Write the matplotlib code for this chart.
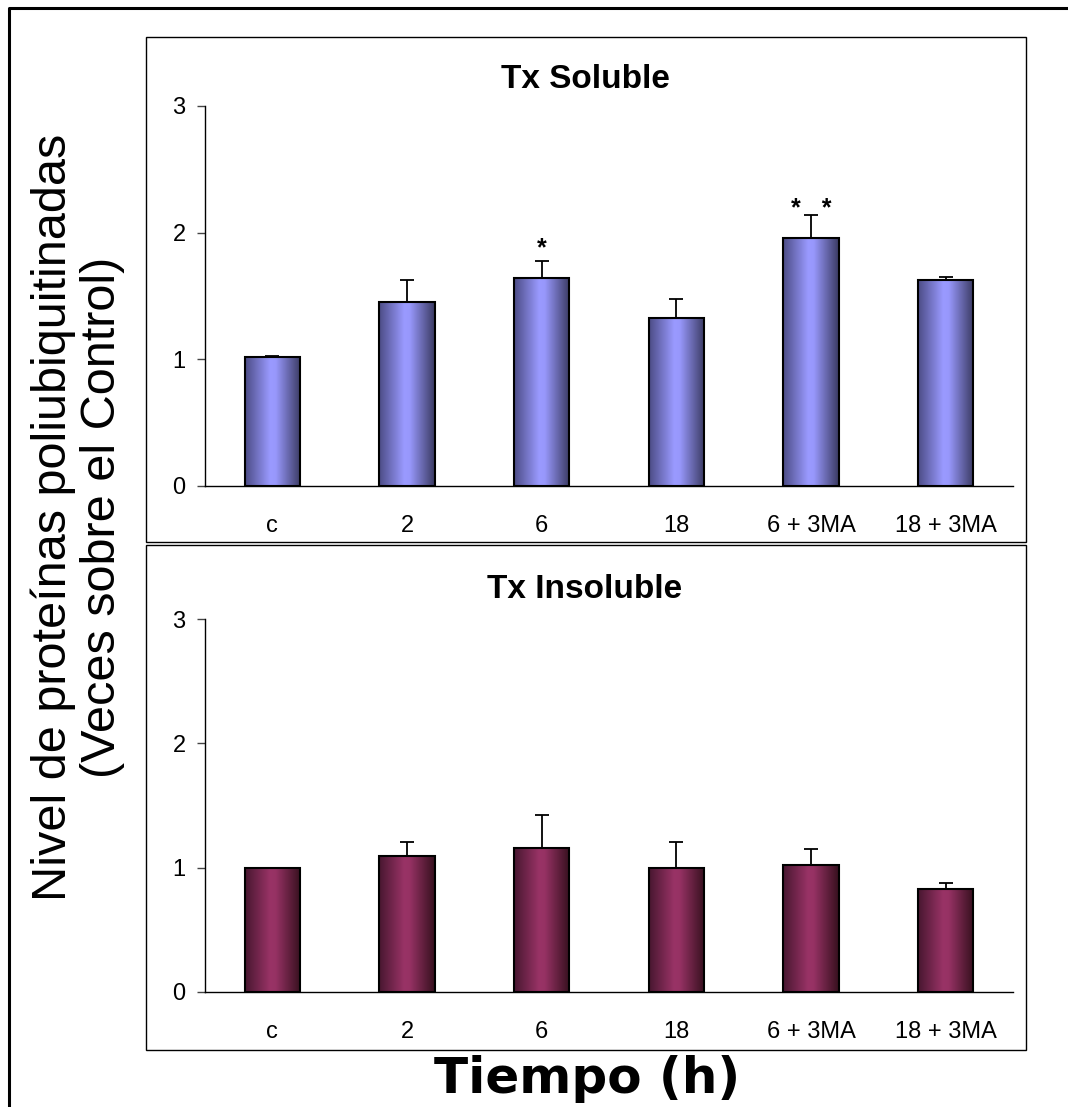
import numpy as np
import matplotlib
matplotlib.use("Agg")
import matplotlib.pyplot as plt
from matplotlib.colors import LinearSegmentedColormap
from matplotlib.patches import Rectangle
from matplotlib.lines import Line2D

# data
categories = ["c", "2", "6", "18", "6 + 3MA", "18 + 3MA"]
soluble = [1.02, 1.45, 1.64, 1.33, 1.96, 1.63]
soluble_err = [0.01, 0.18, 0.14, 0.15, 0.18, 0.02]
insoluble = [1.00, 1.09, 1.16, 1.00, 1.02, 0.83]
insoluble_err = [0.0, 0.12, 0.26, 0.21, 0.13, 0.05]
stars = {2: "*", 4: "*   *"}   # category index -> marker text
star_y = {2: 1.88, 4: 2.19}

plt.rcParams['font.family'] = ['Liberation Sans', 'DejaVu Sans']

W, H = 1068, 1107
fig = plt.figure(figsize=(W / 100, H / 100), dpi=100)

cmap_blue = LinearSegmentedColormap.from_list(
    "blu", [(0, "#4c4c86"), (0.45, "#9a9aff"), (0.55, "#9898fc"), (1, "#3a3a62")])
cmap_wine = LinearSegmentedColormap.from_list(
    "wine", [(0, "#481730"), (0.45, "#993366"), (0.55, "#963264"), (1, "#36101e")])
grad = np.linspace(0, 1, 200).reshape(1, -1)


def panel(rect, vals, errs, cmap, title, box, title_y):
    ax = fig.add_axes(rect)
    x = np.arange(len(categories))
    bars = ax.bar(x, vals, 0.41, color="none", edgecolor="black",
                  linewidth=1.5, zorder=3)
    for b in bars:
        ax.imshow(grad, cmap=cmap, aspect="auto", zorder=2,
                  extent=[b.get_x(), b.get_x() + b.get_width(), 0, b.get_height()])
    ax.errorbar(x, vals, yerr=[np.zeros(len(vals)), errs], fmt="none",
                ecolor="black", elinewidth=1.3, capsize=5, capthick=1.3, zorder=4)
    ax.set_xlim(-0.5, 5.5)
    ax.set_ylim(0, 3)
    ax.set_yticks([0, 1, 2, 3])
    ax.set_xticks(x)
    ax.set_xticklabels(categories)
    ax.tick_params(axis="x", length=0, pad=21, labelsize=17)
    ax.tick_params(axis="y", length=6, width=1, color="#444444",
                   pad=8, labelsize=17)
    for s in ["top", "right"]:
        ax.spines[s].set_visible(False)
    for s in ["left", "bottom"]:
        ax.spines[s].set_linewidth(1.0)
    # panel frame
    x0, y0, x1, y1 = box
    fig.add_artist(Rectangle((x0 / W, 1 - y1 / H), (x1 - x0) / W, (y1 - y0) / H,
                             transform=fig.transFigure, fill=False,
                             edgecolor="black", linewidth=1.0))
    fig.text(585 / W, 1 - title_y / H, title, ha="center", va="center",
             fontsize=24, fontweight="bold")
    return ax


ax1 = panel([205 / W, 1 - 486 / H, 808 / W, 380 / H], soluble, soluble_err,
            cmap_blue, "Tx Soluble", (146, 37, 1026, 542), 80)
ax2 = panel([205 / W, 1 - 992 / H, 808 / W, 373 / H], insoluble, insoluble_err,
            cmap_wine, "Tx Insoluble", (146, 545, 1026, 1050), 589)

for i, t in stars.items():
    ax1.text(i, star_y[i], t, ha="center", va="center", fontsize=18,
             fontweight="bold")

fig.text(78 / W, 1 - 517 / H,
         "Nivel de proteínas poliubiquitinadas\n(Veces sobre el Control)",
         rotation=90, ha="center", va="center", fontsize=35,
         multialignment="center", linespacing=1.1)
fig.text(587 / W, 1 - 1079 / H, "Tiempo (h)", ha="center", va="center",
         fontsize=36, fontweight="bold", family="DejaVu Sans")

# outer frame (left and top edges only visible)
fig.add_artist(Line2D([8.5 / W, 8.5 / W, 1.0], [0.0, 1 - 7.5 / H, 1 - 7.5 / H],
                      transform=fig.transFigure, color="black", linewidth=2.2))

fig.savefig("out.png", dpi=100)
